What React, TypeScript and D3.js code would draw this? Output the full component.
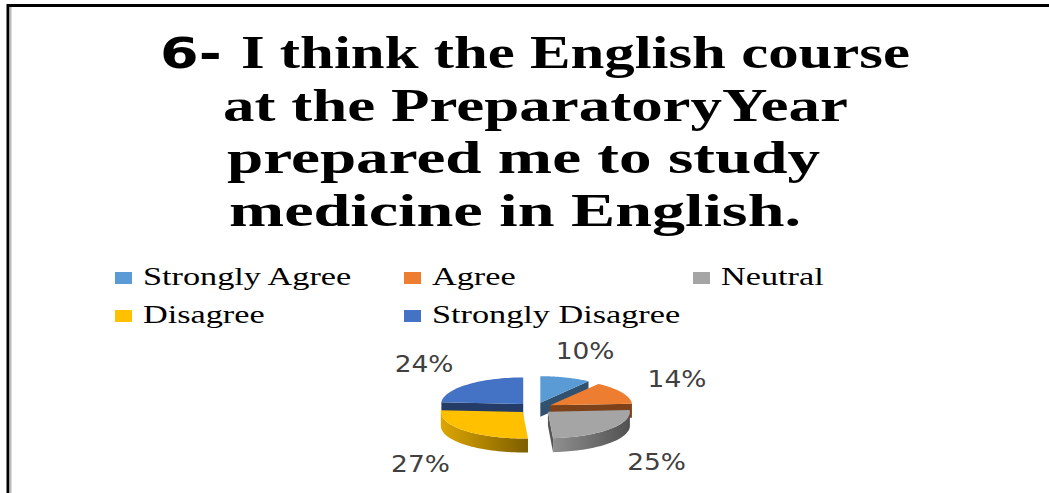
import React from 'react';
import * as d3 from 'd3';

const categories = ['Strongly Agree', 'Agree', 'Neutral', 'Disagree', 'Strongly Disagree'];
const values = [10, 14, 25, 27, 24];
const colors = ['#5b9bd5', '#ed7d31', '#a5a5a5', '#ffc000', '#4472c4'];
const titleLines = ['I think the English course', 'at the PreparatoryYear', 'prepared me to study', 'medicine in English.'];
const titlePrefix = '6- ';

const W = 1049;
const H = 493;

export default function App() {
  // title layout (left, width, baseline) for each line
  const titleLeft = [160, 223, 227, 229];
  const titleWidth = [750, 625, 593, 572];
  const titleY = d3.scaleLinear().domain([0, 3]).range([68, 226]);

  // legend grid
  const legX = d3.scaleLinear().domain([0, 2]).range([115, 693]);
  const legY = d3.scaleLinear().domain([0, 1]).range([272, 310]);

  // 3d pie geometry
  const cx = 535;
  const cy = 408;
  const rx = 82;
  const ry = 26.5;
  const depth = 14;
  const explode = 0.21;
  const labelRx = 162;
  const labelRy = 60;

  const arcs = d3.pie<number>().sort(null).value(d => d)(values);

  const pt = (a: number, ox: number, oy: number, z = 0): [number, number] => [
    cx + ox + rx * Math.sin(a),
    cy + oy - ry * Math.cos(a) + z
  ];
  const line = d3.line();

  const arcPts = (a0: number, a1: number, ox: number, oy: number, z = 0) =>
    d3.range(0, 41).map(i => pt(a0 + ((a1 - a0) * i) / 40, ox, oy, z));

  const slices = arcs.map((a, i) => {
    const mid = (a.startAngle + a.endAngle) / 2;
    const ox = Math.sin(mid) * explode * rx;
    const oy = -Math.cos(mid) * explode * ry;
    const c: [number, number] = [cx + ox, cy + oy];
    const cd: [number, number] = [cx + ox, cy + oy + depth];
    const base = d3.color(colors[i])!;
    const walls: { d: string; fill: string }[] = [];
    const wallFill = base.darker(1.8).formatHex();
    if (Math.sin(a.startAngle) < -1e-6) {
      const p = pt(a.startAngle, ox, oy);
      const pd = pt(a.startAngle, ox, oy, depth);
      walls.push({ d: line([c, p, pd, cd])! + 'Z', fill: wallFill });
    }
    if (Math.sin(a.endAngle) > 1e-6) {
      const p = pt(a.endAngle, ox, oy);
      const pd = pt(a.endAngle, ox, oy, depth);
      walls.push({ d: line([c, p, pd, cd])! + 'Z', fill: wallFill });
    }
    const s0 = Math.max(a.startAngle, Math.PI / 2);
    const s1 = Math.min(a.endAngle, (3 * Math.PI) / 2);
    let side: string | null = null;
    if (s1 > s0) {
      const top = arcPts(s0, s1, ox, oy);
      const bot = arcPts(s0, s1, ox, oy, depth).reverse();
      side = line([...top, ...bot])! + 'Z';
    }
    const topFace = line([c, ...arcPts(a.startAngle, a.endAngle, ox, oy)])! + 'Z';
    const lx = cx + Math.sin(mid) * labelRx;
    const ly = cy - Math.cos(mid) * labelRy + (Math.cos(mid) < 0 ? depth : 0);
    return {
      i,
      mid,
      walls,
      side,
      topFace,
      color: colors[i],
      sideLight: base.darker(0.4).formatHex(),
      sideDark: base.darker(2).formatHex(),
      label: `${values[i]}%`,
      lx,
      ly
    };
  });

  const order = [...slices].sort((p, q) => Math.cos(q.mid) - Math.cos(p.mid));

  return (
    <svg width={W} height={H} style={{ position: 'absolute', left: 0, top: 0, background: '#fff' }}>
      <defs>
        {slices.map(s => (
          <linearGradient key={s.i} id={`side${s.i}`} x1="0" x2="1" y1="0" y2="0">
            <stop offset="0%" stopColor={s.sideLight} />
            <stop offset="100%" stopColor={s.sideDark} />
          </linearGradient>
        ))}
      </defs>
      <rect x={0} y={0} width={W} height={H} fill="#fff" />
      {/* frame */}
      <line x1={7} x2={W} y1={5.5} y2={5.5} stroke="#000" strokeWidth={3} />
      <line x1={8} x2={8} y1={4} y2={H} stroke="#000" strokeWidth={3} />
      <line x1={10.5} x2={10.5} y1={7} y2={H} stroke="#bbb" strokeWidth={2} />

      {/* title */}
      {titleLines.map((t, i) => (
        <text
          key={i}
          x={titleLeft[i]}
          y={titleY(i)}
          textLength={titleWidth[i]}
          lengthAdjust="spacingAndGlyphs"
          fontFamily="'Liberation Serif', 'Times New Roman', serif"
          fontWeight="bold"
          fontSize={46}
          fill="#000"
        >
          {i === 0 && (
            <tspan fontFamily="'DejaVu Sans', sans-serif" fontSize={42}>
              {titlePrefix}
            </tspan>
          )}
          {t}
        </text>
      ))}

      {/* legend */}
      {categories.map((c, i) => {
        const x = legX(i % 3);
        const y = legY(Math.floor(i / 3));
        return (
          <g key={c}>
            <rect x={x} y={y} width={17} height={12} fill={colors[i]} />
            <text
              transform={`translate(${x + 28},${y + 13}) scale(1.37,1)`}
              fontFamily="'Liberation Serif', 'Times New Roman', serif"
              fontSize={25}
              fill="#000"
            >
              {c}
            </text>
          </g>
        );
      })}

      {/* 3d pie */}
      {order.map(s => (
        <g key={s.i}>
          {s.walls.map((w, k) => (
            <path key={k} d={w.d} fill={w.fill} />
          ))}
          {s.side && <path d={s.side} fill={`url(#side${s.i})`} />}
          <path d={s.topFace} fill={s.color} />
        </g>
      ))}

      {/* data labels */}
      {slices.map(s => (
        <text
          key={s.i}
          transform={`translate(${s.lx},${s.ly}) scale(1.15,1)`}
          textAnchor="middle"
          dominantBaseline="central"
          fontFamily="'DejaVu Sans', sans-serif"
          fontSize={23}
          fill="#404040"
        >
          {s.label}
        </text>
      ))}
    </svg>
  );
}
